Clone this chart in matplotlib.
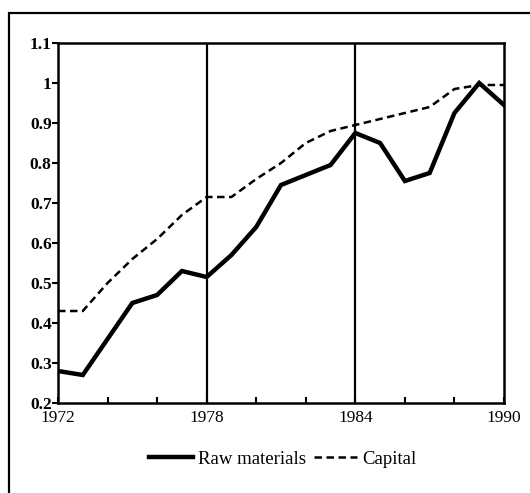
import matplotlib
matplotlib.use("Agg")
import matplotlib.pyplot as plt
from matplotlib.patches import Rectangle

years = list(range(1972, 1991))
raw_materials = [0.28, 0.27, 0.36, 0.45, 0.47, 0.53, 0.515, 0.57, 0.64, 0.745,
                 0.77, 0.795, 0.875, 0.85, 0.755, 0.775, 0.925, 1.0, 0.945]
capital = [0.43, 0.43, 0.50, 0.56, 0.61, 0.67, 0.715, 0.715, 0.76, 0.80,
           0.85, 0.88, 0.895, 0.91, 0.925, 0.94, 0.985, 0.995, 0.995]
vlines = [1978, 1984]
xticks_major = [1972, 1978, 1984, 1990]
yticks = [0.2, 0.3, 0.4, 0.5, 0.6, 0.7, 0.8, 0.9, 1.0, 1.1]
ytick_labels = ["0.2", "0.3", "0.4", "0.5", "0.6", "0.7", "0.8", "0.9", "1", "1.1"]

plt.rcParams['font.family'] = ['Liberation Serif', 'DejaVu Serif']

fig = plt.figure(figsize=(5.30, 4.93), dpi=100)
W, H = 530, 493
ax = fig.add_axes([58 / W, 1 - 403 / H, (504 - 58) / W, (403 - 43) / H])

# outer frame
fig.patches.append(Rectangle((9 / W, -0.05), 1.2, (1 - 13 / H) + 0.05,
                             transform=fig.transFigure, fill=False,
                             edgecolor='black', linewidth=1.6))

for v in vlines:
    ax.axvline(v, color='black', linewidth=1.6, zorder=1)

ax.plot(years, raw_materials, color='black', linewidth=3.2, label='Raw materials',
        solid_joinstyle='miter', zorder=3)
ax.plot(years, capital, color='black', linewidth=1.8, linestyle=(0, (3, 1.8)),
        label='Capital', zorder=3)

ax.set_xlim(1972, 1990)
ax.set_ylim(0.2, 1.1)
ax.set_xticks(xticks_major)
ax.set_xticklabels([str(x) for x in xticks_major], fontsize=12.5)
ax.set_xticks(list(range(1974, 1990, 2)), minor=True)
ax.set_yticks(yticks)
ax.set_yticklabels(ytick_labels, fontsize=12.5, fontweight='bold')

ax.tick_params(axis='x', which='both', direction='in', length=4, width=1.5, pad=5)
ax.tick_params(axis='y', direction='out', length=4, width=1.5, pad=0.5)
for s in ax.spines.values():
    s.set_linewidth(1.8)

leg = fig.legend(loc='center', bbox_to_anchor=(283 / W, 1 - 459 / H), ncol=2,
                 frameon=False, fontsize=13.5, handlelength=2.3, columnspacing=0.4,
                 handletextpad=0.3)

fig.savefig('out.png', dpi=100)
